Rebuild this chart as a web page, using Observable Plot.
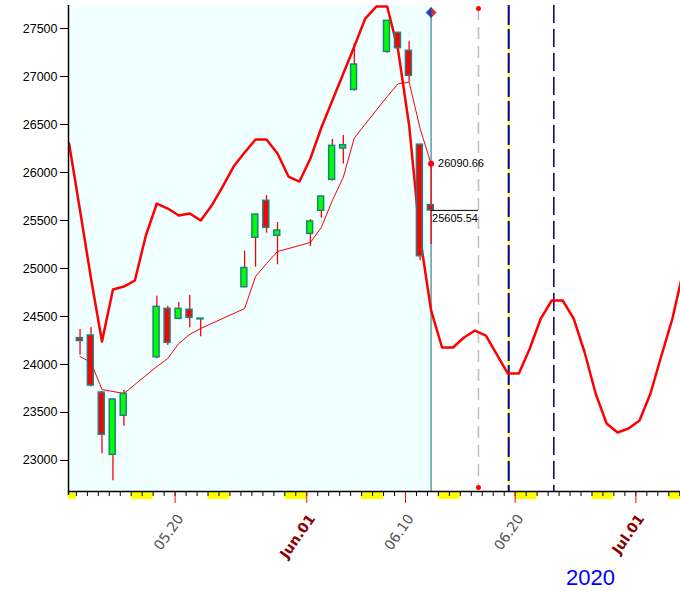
<!DOCTYPE html>
<html>
<head>
<meta charset="utf-8">
<script src="https://cdn.jsdelivr.net/npm/d3@7"></script>
<script src="https://cdn.jsdelivr.net/npm/@observablehq/plot@0.6"></script>
<style>
  body { margin: 0; background: #ffffff; }
  #chart svg { display: block; }
</style>
</head>
<body>
<div id="chart"></div>
<script>
// ---- Data ----
const candleDates = ["2020-05-11","2020-05-12","2020-05-13","2020-05-14","2020-05-15",
  "2020-05-18","2020-05-19","2020-05-20","2020-05-21","2020-05-22",
  "2020-05-26","2020-05-27","2020-05-28","2020-05-29",
  "2020-06-01","2020-06-02","2020-06-03","2020-06-04","2020-06-05",
  "2020-06-08","2020-06-09","2020-06-10","2020-06-11","2020-06-12"];
const opens  = [24275,24302,23708,23059,23466, 24076,24580,24476,24570,24470, 24805,25320,25705,25340, 25361,25601,25924,26250,26861, 27257,27455,27268,26290,25659.72];
const highs  = [24365,24385,23720,23640,23732, 24712,24607,24646,24722,24480, 25180,25565,25760,25479, 25510,25755,26344,26385,27344, 27585,27460,27365,26295,26090.66];
const lows   = [24100,23765,23070,22790,23357, 24060,24198,24465,24382,24290, 24800,25014,25368,25039, 25229,25524,25910,26090,26847, 27243,27250,26940,25080,25250];
const closes = [24245,23781,23268,23635,23695, 24601,24226,24580,24486,24478, 25005,25562,25424,25396, 25490,25750,26278,26285,27125, 27580,27295,27007,25128,25605.54];

// thin red average line (one value per candle)
const avgValues = [24083,24021,23740,23719,23698, 23979,24063,24219,24313,24375, 24583,24917,25052,25177, 25271,25430,25708,25951,26360, 26792,26924,26941,26458,26090.66];

// thick red cycle curve, one value per calendar day from 2020-05-10 to 2020-07-05
const waveStart = "2020-05-10";
const waveValues = [
  26302,25604,24896,24240,24781,24812,24875,25344,25677,25625,25552,25573,25500,25656,25854,26062,
  26208,26344,26344,26198,25958,25906,
  26146,26469,26750,27031,27312,27604,27729,27729,27271,26490,25323,24563,24177,24177,24281,24354,
  24302,24104,23906,23906,24167,24479,24667,24667,24479,24125,23698,23385,23292,23333,
  23417,23698,24094,24479,24979];

const yTicks = [23000,23500,24000,24500,25000,25500,26000,26500,27000,27500];
const xLabelDates = ["2020-05-20","2020-06-01","2020-06-10","2020-06-20","2020-07-01"];
const xLabelTexts = ["05.20","Jun.01","06.10","06.20","Jul.01"];
const xLabelIsMonth = [false,true,false,false,true];
const yearLabel = ["2020"];

const lastPoint = {date: "2020-06-12", high: 26090.66, close: 25605.54};
const grayLineTime = "2020-06-16T15:40Z";
const blueLineTime = "2020-06-19T09:50Z";
const navyLineTime = "2020-06-23T12:30Z";

const xDomain = [new Date("2020-05-10T06:45Z"), new Date("2020-07-05T01:40Z")];
const yDomain = [22677, 27740];

// ---- Build tables ----
const parse = d3.utcParse("%Y-%m-%d");
const at8 = s => d3.utcHour.offset(parse(s), 8);

const candles = candleDates.map((d, i) => ({
  t: at8(d), o: opens[i], h: highs[i], l: lows[i], c: closes[i], avg: avgValues[i]
}));
const wave = waveValues.map((v, i) => ({t: d3.utcHour.offset(d3.utcDay.offset(parse(waveStart), i), 8), v}));

const dayTicks = d3.utcDay.range(d3.utcDay.ceil(xDomain[0]), xDomain[1]);
const weekends = d3.utcSaturday.range(d3.utcDay.offset(xDomain[0], -2), xDomain[1]).map(s => ({
  x1: s < xDomain[0] ? xDomain[0] : s,
  x2: d3.utcDay.offset(s, 2) > xDomain[1] ? xDomain[1] : d3.utcDay.offset(s, 2)
}));
const xLabels = xLabelDates.map((d, i) => ({t: parse(d), text: xLabelTexts[i], month: xLabelIsMonth[i]}));

const tLast = at8(lastPoint.date);
const tGray = new Date(grayLineTime);
const tBlue = new Date(blueLineTime);
const tNavy = new Date(navyLineTime);

const leftHalf = {draw(ctx, size) { const r = Math.sqrt(size / Math.PI); ctx.moveTo(0, -r); ctx.lineTo(-r, 0); ctx.lineTo(0, r); ctx.closePath(); }};
const rightHalf = {draw(ctx, size) { const r = Math.sqrt(size / Math.PI); ctx.moveTo(0, -r); ctx.lineTo(r, 0); ctx.lineTo(0, r); ctx.closePath(); }};

const UP = "#00ff00", DOWN = "#ff0000", EDGE = "#1f8080";
const labelFont = "'DejaVu Sans', Verdana, sans-serif";

const chart = Plot.plot({
  width: 680,
  height: 591,
  marginLeft: 68,
  marginRight: 0,
  marginTop: 5,
  marginBottom: 100,
  style: {background: "#ffffff", fontFamily: "'Liberation Sans', Arial, sans-serif", overflow: "visible"},
  x: {type: "utc", domain: xDomain, axis: null},
  y: {domain: yDomain, axis: null},
  marks: [
    // light cyan history background
    Plot.rect([{x1: xDomain[0], x2: tLast}], {x1: "x1", x2: "x2", fill: "#f0ffff"}),
    // weekend marks under the axis
    Plot.rect(weekends, {x1: "x1", x2: "x2", fill: "#ffff00", insetTop: 478, dy: 8}),
    // daily ticks
    Plot.ruleX(dayTicks, {stroke: "#000000", strokeWidth: 1, insetTop: 481, dy: 5}),
    // labelled ticks
    Plot.ruleX(xLabels, {x: "t", stroke: "#ff0000", strokeWidth: 1, insetTop: 474, dy: 12}),
    // date labels
    Plot.text(xLabels.filter(d => !d.month), {
      x: "t", text: "text", frameAnchor: "bottom", rotate: -55, textAnchor: "end",
      dx: 9, dy: 27, fontSize: 14, fontFamily: labelFont, fill: "#505050"
    }),
    Plot.text(xLabels.filter(d => d.month), {
      x: "t", text: "text", frameAnchor: "bottom", rotate: -55, textAnchor: "end",
      dx: 9, dy: 27, fontSize: 14, fontFamily: labelFont, fill: "#8b0000", fontWeight: "bold"
    }),
    // year label
    Plot.text(yearLabel, {text: d => d, frameAnchor: "bottom", dx: 216, dy: 93, fontSize: 22, fill: "#0000ff"}),
    // y axis
    Plot.axisY({ticks: yTicks, tickSize: 8, tickPadding: 3, fontSize: 12.5, tickFormat: d => String(d)}),

    // vertical marker lines
    Plot.ruleX([tGray], {stroke: "#bdbdbd", strokeWidth: 1.5, strokeDasharray: "12,7", insetTop: 3, insetBottom: 4}),
    Plot.dot([tGray], {x: d => d, frameAnchor: "top", dy: 3, r: 2.5, fill: "#ff0000"}),
    Plot.dot([tGray], {x: d => d, frameAnchor: "bottom", dy: -4, r: 2.5, fill: "#ff0000"}),
    Plot.ruleX([tBlue], {stroke: "#ffff00", strokeWidth: 2}),
    Plot.ruleX([tBlue], {stroke: "#0000b0", strokeWidth: 2, strokeDasharray: "20,4"}),
    Plot.ruleX([tNavy], {stroke: "#000060", strokeWidth: 1.5, strokeDasharray: "18,6"}),
    Plot.ruleX([tLast], {stroke: "#2a8a8a", strokeWidth: 1.2, insetTop: 7}),

    // cycle curve and average line
    Plot.line(wave, {x: "t", y: "v", stroke: "#ff0000", strokeWidth: 2.5, clip: true}),
    Plot.line(candles, {x: "t", y: "avg", stroke: "#ff0000", strokeWidth: 1}),

    // candlesticks
    Plot.ruleX(candles, {x: "t", y1: "l", y2: "h", stroke: "#ff0000", strokeWidth: 1.3}),
    Plot.rect(candles, {
      x1: d => d3.utcHour.offset(d.t, -6.5), x2: d => d3.utcHour.offset(d.t, 6.5),
      y1: "o", y2: "c", fill: d => d.c >= d.o ? UP : DOWN, stroke: EDGE, strokeWidth: 1.5
    }),

    // last close level and labels
    Plot.ruleY([lastPoint.close], {x1: tLast, x2: tGray, stroke: "#000000", strokeWidth: 1}),
    Plot.dot([lastPoint], {x: () => tLast, y: "high", r: 3, fill: "#ff0000"}),
    Plot.text([lastPoint], {x: () => tLast, y: "high", text: d => d.high.toFixed(2), textAnchor: "start", dx: 7, fontSize: 11, fill: "#000000"}),
    Plot.text([lastPoint], {x: () => tLast, y: "close", text: d => d.close.toFixed(2), textAnchor: "start", dx: 1, dy: 8, fontSize: 11, fill: "#000000"}),

    // half-blue / half-red diamond on top of the last-bar line
    Plot.dot([tLast], {x: d => d, frameAnchor: "top", dy: 7, r: 5, symbol: leftHalf, fill: "#1a3cff", stroke: "#204060", strokeWidth: 0.7}),
    Plot.dot([tLast], {x: d => d, frameAnchor: "top", dy: 7, r: 5, symbol: rightHalf, fill: "#ff2020", stroke: "#204060", strokeWidth: 0.7}),

    // axis lines
    Plot.ruleX([xDomain[0]], {stroke: "#000000", strokeWidth: 1.5, insetBottom: -4}),
    Plot.ruleY([yDomain[0]], {stroke: "#000000", strokeWidth: 1.5})
  ]
});
document.getElementById("chart").append(chart);
</script>
</body>
</html>
